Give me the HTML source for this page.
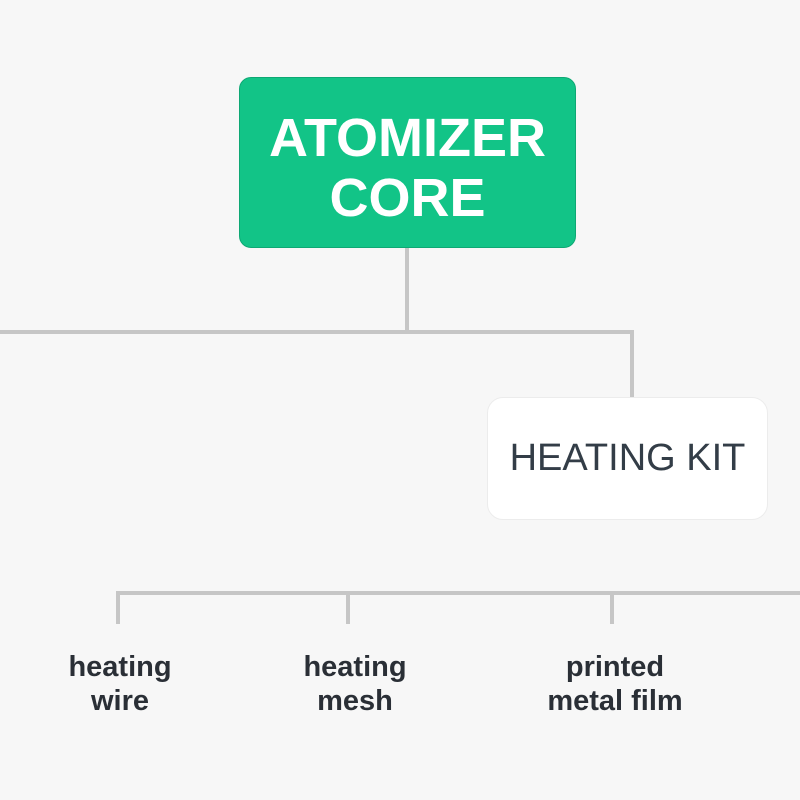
<!DOCTYPE html>
<html><head><style>
body{margin:0;width:800px;height:800px;background:#f7f7f7;position:relative;overflow:hidden;font-family:"Liberation Sans",sans-serif}
.l{position:absolute;background:#c6c6c6}
.root{position:absolute;left:239px;top:77px;width:337px;height:171px;background:#12c487;border:1px solid #0ea874;border-radius:12px;color:#fff;font-weight:bold;font-size:54px;text-align:center;line-height:60px;box-sizing:border-box;padding-top:30px}
.kit{position:absolute;left:487px;top:397px;width:281px;height:123px;background:#fff;border:1px solid #ececec;border-radius:16px;box-sizing:border-box;color:#333d47;font-size:38px;text-align:center;line-height:121px}
.lab{position:absolute;width:200px;text-align:center;font-weight:bold;font-size:29px;line-height:34px;color:#2a2f36}
</style></head><body>
<div class="l" style="left:405px;top:248px;width:4px;height:86px"></div>
<div class="l" style="left:0;top:330px;width:634px;height:4px"></div>
<div class="l" style="left:630px;top:330px;width:4px;height:68px"></div>
<div class="l" style="left:116px;top:591px;width:684px;height:4px"></div>
<div class="l" style="left:116px;top:591px;width:4px;height:33px"></div>
<div class="l" style="left:346px;top:591px;width:4px;height:33px"></div>
<div class="l" style="left:610px;top:591px;width:4px;height:33px"></div>
<div class="root">ATOMIZER<br>CORE</div>
<div class="kit">HEATING KIT</div>
<div class="lab" style="left:20px;top:650px">heating<br>wire</div>
<div class="lab" style="left:255px;top:650px">heating<br>mesh</div>
<div class="lab" style="left:515px;top:650px">printed<br>metal film</div>
</body></html>
